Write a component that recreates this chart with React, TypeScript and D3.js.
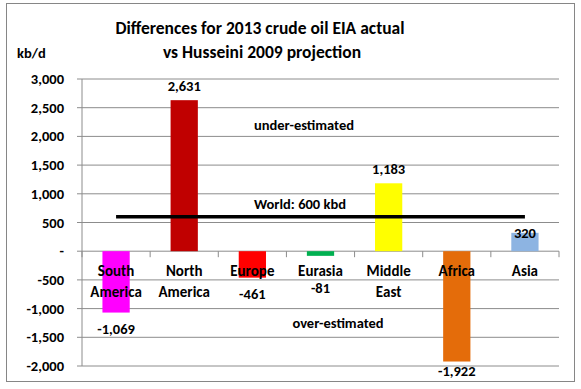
import * as d3 from "d3";

const categories = [
  ["South", "America"],
  ["North", "America"],
  ["Europe"],
  ["Eurasia"],
  ["Middle", "East"],
  ["Africa"],
  ["Asia"],
];
const diffs = [-1069, 2631, -461, -81, 1183, -1922, 320];
const barColors = ["#FF00FF", "#C00000", "#FF0000", "#00B050", "#FFFF00", "#E46C0A", "#8DB4E2"];
const worldValue = 600;
const yTicks = [3000, 2500, 2000, 1500, 1000, 500, 0, -500, -1000, -1500, -2000];

const W = 581;
const H = 389;
const FONT = "Carlito, Calibri, Lato, 'Noto Sans', sans-serif";

// manual label nudges, like the hand-moved labels in the original
const labelNudge = [0, 0, 0, 16, 0, -7, 14];

// excel style: zero shows as "-", plain hyphen for negatives
const fmt = (v: number) => (v === 0 ? "-" : d3.format(",")(v).replace("\u2212", "-"));

const App = () => {
  const margin = { top: 79, right: 22, bottom: 23, left: 82 };
  const keys = categories.map((c) => c.join(" "));

  const x = d3
    .scaleBand<string>()
    .domain(keys)
    .range([margin.left, W - margin.right])
    .paddingInner(0.6)
    .paddingOuter(0.3);
  const band = d3.scaleBand<string>().domain(keys).range([margin.left, W - margin.right]);

  const y = d3.scaleLinear().domain([-2000, 3000]).range([H - margin.bottom, margin.top]);

  const world = d3
    .line<string>()
    .x((k) => (band(k) ?? 0) + band.bandwidth() / 2)
    .y(() => y(worldValue));

  const x0 = margin.left;
  const x1 = W - margin.right;

  return (
    <svg
      width={W}
      height={H}
      style={{ position: "absolute", left: 0, top: 0, background: "#fff" }}
      fontFamily={FONT}
      fontWeight="bold"
    >
      <rect x={6.5} y={3.5} width={568} height={378} fill="#fff" stroke="#868686" />
      <text x={260} y={34} textAnchor="middle" fontSize={17.5}>
        Differences for 2013 crude oil EIA actual
      </text>
      <text x={262} y={58} textAnchor="middle" fontSize={17.5}>
        vs Husseini 2009 projection
      </text>
      <text x={17} y={58} fontSize={14.5}>kb/d</text>

      {yTicks.map((t) => (
        <g key={t}>
          <line x1={x0 - 5} x2={x1} y1={y(t)} y2={y(t)} stroke="#8c8c8c" strokeWidth={1} />
          <text x={64} y={y(t) + 5} textAnchor="end" fontSize={14.5}>
            {fmt(t)}
          </text>
        </g>
      ))}
      <line x1={x0} x2={x0} y1={y(3000)} y2={y(-2000)} stroke="#8c8c8c" />
      {keys.map((k) => (
        <line key={k} x1={band(k)} x2={band(k)} y1={y(0)} y2={y(0) + 6} stroke="#8c8c8c" />
      ))}
      <line x1={x1} x2={x1} y1={y(0)} y2={y(0) + 6} stroke="#8c8c8c" />

      {diffs.map((v, i) => (
        <rect
          key={keys[i]}
          x={x(keys[i])}
          width={x.bandwidth()}
          y={y(Math.max(0, v))}
          height={Math.abs(y(v) - y(0))}
          fill={barColors[i]}
        />
      ))}

      <path d={world(keys) ?? ""} stroke="#000" strokeWidth={3.5} fill="none" />

      {categories.map((c, i) => (
        <text key={keys[i]} textAnchor="middle" fontSize={15}>
          {c.map((line, j) => (
            <tspan key={j} x={(band(keys[i]) ?? 0) + band.bandwidth() / 2} y={276 + j * 21}>
              {line}
            </tspan>
          ))}
        </text>
      ))}

      {diffs.map((v, i) => (
        <text
          key={keys[i]}
          x={(band(keys[i]) ?? 0) + band.bandwidth() / 2}
          y={(v >= 0 ? y(v) - 9 : y(v) + 21) + labelNudge[i]}
          textAnchor="middle"
          fontSize={14.5}
        >
          {fmt(v)}
        </text>
      ))}

      <text x={300} y={209} textAnchor="middle" fontSize={14.5}>World: 600 kbd</text>
      <text x={304} y={130} textAnchor="middle" fontSize={14.5}>under-estimated</text>
      <text x={338} y={328} textAnchor="middle" fontSize={14.5}>over-estimated</text>
    </svg>
  );
};

export default App;
